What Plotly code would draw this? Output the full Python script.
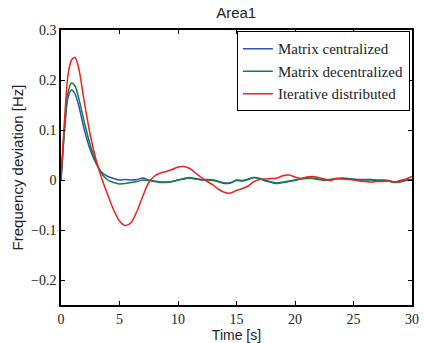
import plotly.graph_objects as go

time_s = [0, 0.3, 0.6, 0.9, 1.2, 1.5, 2.0, 2.5, 3.0, 3.5, 4.0, 4.5, 5.0, 5.5, 6.0, 6.5, 7.0, 7.5,
          8.0, 8.5, 9.0, 9.5, 10.0, 10.5, 11.0, 11.5, 12.0, 12.5, 13.0, 13.5, 14.0, 14.5, 15.0,
          15.5, 16.0, 16.5, 17.0, 17.5, 18.0, 18.5, 19.0, 19.5, 20.0, 20.5, 21.0, 21.5, 22.0,
          22.5, 23.0, 23.5, 24.0, 24.5, 25.0, 25.5, 26.0, 26.5, 27.0, 27.5, 28.0, 28.5, 29.0,
          29.5, 30.0]

matrix_centralized = [0, 0.10, 0.165, 0.18, 0.172, 0.15, 0.10, 0.06, 0.033, 0.015, 0.007, 0.003,
                      0.0, 0.001, 0.0, 0.001, 0.004, 0.0, -0.002, -0.004, -0.004, -0.003, 0.0,
                      0.003, 0.005, 0.003, 0.001, 0.001, 0.0, -0.003, -0.006, -0.005, 0.0,
                      -0.001, 0.002, 0.005, 0.003, -0.001, -0.004, -0.006, -0.004, -0.002, 0.0,
                      0.003, 0.004, 0.004, 0.002, 0.0, 0.001, 0.003, 0.004, 0.003, 0.002, 0.001,
                      0.001, 0.001, 0.0, 0.0, -0.001, -0.004, -0.003, 0.0, 0.001]

matrix_decentralized = [0, 0.10, 0.175, 0.194, 0.188, 0.165, 0.115, 0.07, 0.035, 0.012, 0.0,
                        -0.005, -0.008, -0.007, -0.005, -0.003, 0.0, -0.001, -0.003, -0.005,
                        -0.005, -0.003, 0.0, 0.002, 0.004, 0.002, 0.0, 0.0, -0.001, -0.004,
                        -0.007, -0.006, -0.001, -0.002, 0.001, 0.005, 0.002, -0.002, -0.005,
                        -0.007, -0.005, -0.003, -0.001, 0.002, 0.003, 0.003, 0.001, -0.001, 0.0,
                        0.002, 0.003, 0.002, 0.001, 0.0, 0.0, 0.0, -0.001, -0.001, -0.002,
                        -0.005, -0.004, -0.001, 0.0]

iterative_distributed = [0, 0.12, 0.21, 0.24, 0.245, 0.225, 0.155, 0.09, 0.04, 0.002, -0.03,
                         -0.06, -0.082, -0.091, -0.085, -0.062, -0.032, -0.005, 0.008, 0.014,
                         0.017, 0.021, 0.026, 0.027, 0.023, 0.014, 0.005, -0.003, -0.01, -0.019,
                         -0.025, -0.026, -0.021, -0.017, -0.012, -0.003, 0.001, 0.002, 0.003,
                         0.004, 0.009, 0.01, 0.006, 0.003, 0.006, 0.007, 0.005, 0.002, -0.001,
                         0.003, 0.002, 0.001, 0.0, -0.002, -0.003, -0.004, -0.003, -0.003,
                         -0.002, -0.004, -0.001, 0.002, 0.007]

x_ticks = [0, 5, 10, 15, 20, 25, 30]
y_ticks = [-0.2, -0.1, 0, 0.1, 0.2, 0.3]
y_tick_labels = ["\u22120.2", "\u22120.1", "0", "0.1", "0.2", "0.3"]

series = [
    ("Matrix centralized", matrix_centralized, "#3050b8"),
    ("Matrix decentralized", matrix_decentralized, "#108040"),
    ("Iterative distributed", iterative_distributed, "#f02020"),
]

fig = go.Figure()
for name, vals, col in series:
    fig.add_trace(go.Scatter(x=time_s, y=vals, mode="lines", name=name,
                             line=dict(color=col, width=1.5, shape="spline", smoothing=0.8)))

axis_common = dict(showgrid=False, zeroline=False, showline=True, linecolor="black",
                   linewidth=1.5, mirror="ticks", ticks="inside", ticklen=4,
                   tickcolor="black", automargin=False,
                   tickfont=dict(family="Liberation Serif", size=14, color="#222"))

fig.update_layout(
    width=424, height=343,
    margin=dict(l=61, r=12, t=30, b=38),
    paper_bgcolor="white", plot_bgcolor="white",
    title=dict(text="Area1", x=0.557, xanchor="center", y=0.962, yanchor="middle",
               font=dict(family="Liberation Sans", size=15, color="#222")),
    xaxis=dict(range=[0, 30], tickvals=x_ticks, title=dict(text="Time [s]", standoff=2,
               font=dict(family="Liberation Sans", size=14, color="#222")), **axis_common),
    yaxis=dict(range=[-0.25, 0.3], tickvals=y_ticks, ticktext=y_tick_labels,
               title=dict(text="Frequency deviation [Hz]", standoff=4,
                          font=dict(family="Liberation Sans", size=15, color="#222")),
               **axis_common),
    legend=dict(x=0.994, y=0.995, xanchor="right", yanchor="top",
                bgcolor="white", bordercolor="black", borderwidth=1,
                font=dict(family="Liberation Serif", size=15, color="#222"),
                tracegroupgap=0, itemwidth=30),
    showlegend=True,
)

fig.write_html("out.html")
